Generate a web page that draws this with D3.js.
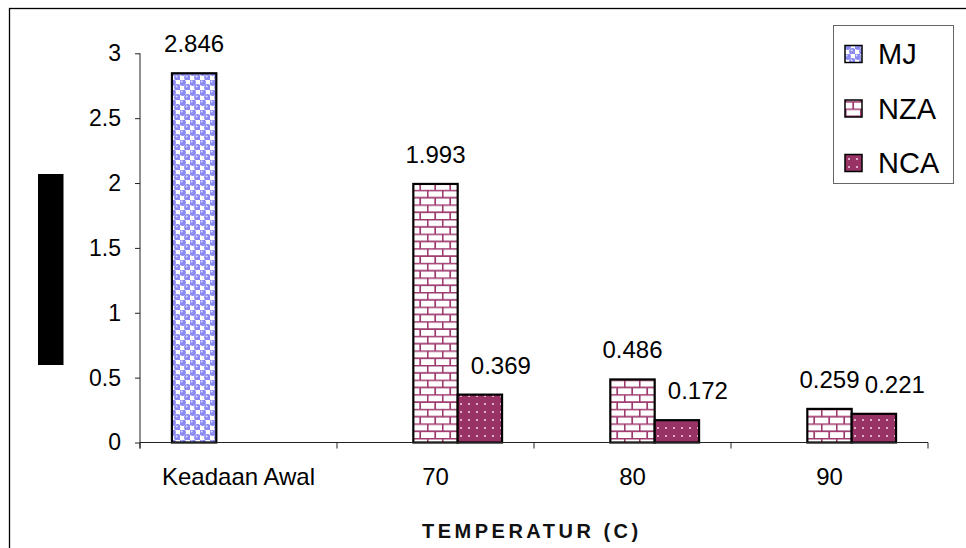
<!DOCTYPE html>
<html>
<head>
<meta charset="utf-8">
<script src="https://cdn.jsdelivr.net/npm/d3@7"></script>
<style>
  body { margin: 0; background: #fff; }
  svg { display: block; font-family: "Liberation Sans", Arial, sans-serif; }
</style>
</head>
<body>
<div id="chart"></div>
<script>
// chart data
var categories = ["Keadaan Awal", "70", "80", "90"];
var series = ["MJ", "NZA", "NCA"];
var mjValues = [2.846, null, null, null];
var nzaValues = [null, 1.993, 0.486, 0.259];
var ncaValues = [null, 0.369, 0.172, 0.221];
var yTicks = [0, 0.5, 1, 1.5, 2, 2.5, 3];
var xTitle = "TEMPERATUR (C)";

var values = { MJ: mjValues, NZA: nzaValues, NCA: ncaValues };

var w = 966;
var h = 548;
var plotLeft = 140, plotRight = 928, plotTop = 53.3, plotBottom = 442.5;

var svg = d3.select("#chart")
            .append("svg")
            .attr("width", w)
            .attr("height", h);

var defs = svg.append("defs");

// MJ - lavender bubbles on a checker
var pMJ = defs.append("pattern")
              .attr("id", "pat-MJ")
              .attr("patternUnits", "userSpaceOnUse")
              .attr("width", 10).attr("height", 10);
pMJ.append("rect").attr("width", 10).attr("height", 10).attr("fill", "#a0a0f8");
pMJ.append("rect").attr("x", 5).attr("y", 0).attr("width", 5).attr("height", 5).attr("fill", "#fff");
pMJ.append("rect").attr("x", 0).attr("y", 5).attr("width", 5).attr("height", 5).attr("fill", "#fff");
[[2.5, 2.5], [7.5, 7.5]].forEach(function(c) {
  pMJ.append("circle").attr("cx", c[0]).attr("cy", c[1]).attr("r", 3.4).attr("fill", "#8a8af2");
  pMJ.append("circle").attr("cx", c[0] - 0.8).attr("cy", c[1] - 1).attr("r", 1).attr("fill", "#dcdcff");
});

// NZA - plum bricks
var pNZA = defs.append("pattern")
               .attr("id", "pat-NZA")
               .attr("patternUnits", "userSpaceOnUse")
               .attr("width", 15).attr("height", 14.6);
pNZA.append("rect").attr("width", 15).attr("height", 14.6).attr("fill", "#fff");
pNZA.append("path")
    .attr("d", "M0,0.7H15M0,8H15M0.7,0.7V8M8.2,8V14.6")
    .attr("stroke", "#9e3a6e").attr("stroke-width", 1.7).attr("fill", "none");

// NCA - plum with white dots
var pNCA = defs.append("pattern")
               .attr("id", "pat-NCA")
               .attr("patternUnits", "userSpaceOnUse")
               .attr("width", 8).attr("height", 8);
pNCA.append("rect").attr("width", 8).attr("height", 8).attr("fill", "#993366");
pNCA.append("circle").attr("cx", 4).attr("cy", 4).attr("r", 1).attr("fill", "#f4d8e6");

// outer frame (cut by the page edges)
svg.append("rect")
   .attr("x", 9.5).attr("y", 8.5)
   .attr("width", 1000).attr("height", 1000)
   .attr("fill", "none").attr("stroke", "#000").attr("stroke-width", 1.3);

// hidden y axis title block
svg.append("rect")
   .attr("x", 38).attr("y", 174)
   .attr("width", 25.5).attr("height", 191)
   .attr("fill", "#000");

var x0 = d3.scaleBand()
           .domain(categories)
           .range([plotLeft, plotRight])
           .padding(0);

var x1 = d3.scaleBand()
           .domain(series)
           .range([0, x0.bandwidth()])
           .paddingInner(0)
           .paddingOuter(0.72);

var yScale = d3.scaleLinear()
               .domain([0, 3])
               .range([plotBottom, plotTop]);

// bars
var groups = svg.selectAll("g.cat")
                .data(categories)
                .enter()
                .append("g")
                .attr("class", "cat")
                .attr("transform", function(d) { return "translate(" + x0(d) + ",0)"; });

var labelShift = { MJ: 0, NZA: 0, NCA: 21 };

groups.each(function(cat, i) {
  var g = d3.select(this);
  var rows = series.map(function(s) { return { s: s, v: values[s][i] }; })
                   .filter(function(d) { return d.v != null; });

  g.selectAll("rect")
   .data(rows)
   .enter()
   .append("rect")
   .attr("x", function(d) { return x1(d.s); })
   .attr("y", function(d) { return yScale(d.v); })
   .attr("width", x1.bandwidth())
   .attr("height", function(d) { return yScale(0) - yScale(d.v); })
   .attr("fill", function(d) { return "url(#pat-" + d.s + ")"; })
   .attr("stroke", "#000")
   .attr("stroke-width", 2.2);

  g.selectAll("text")
   .data(rows)
   .enter()
   .append("text")
   .attr("x", function(d) { return x1(d.s) + x1.bandwidth() / 2 + labelShift[d.s]; })
   .attr("y", function(d) { return yScale(d.v) - 21; })
   .attr("text-anchor", "middle")
   .attr("font-size", 24)
   .attr("fill", "#000")
   .text(function(d) { return d.v.toFixed(3); });
});

// y axis
var yAxis = d3.axisLeft(yScale)
              .tickValues(yTicks)
              .tickSize(5)
              .tickPadding(14)
              .tickFormat(d3.format(""));

var gy = svg.append("g")
            .attr("class", "axis")
            .attr("transform", "translate(" + plotLeft + ",0)")
            .call(yAxis);
gy.select(".domain").attr("d", "M0," + plotTop + "V" + (plotBottom + 6)).attr("stroke", "#222");
gy.selectAll(".tick line").attr("stroke", "#222");
gy.selectAll(".tick text")
  .attr("font-size", 23)
  .attr("font-family", "Liberation Sans, Arial, sans-serif")
  .attr("fill", "#000");

// x axis: line with ticks between categories
svg.append("line")
   .attr("x1", plotLeft).attr("x2", plotRight)
   .attr("y1", plotBottom).attr("y2", plotBottom)
   .attr("stroke", "#222");

var bounds = categories.map(function(c) { return x0(c); }).concat([plotRight]);
svg.selectAll("line.xtick")
   .data(bounds)
   .enter()
   .append("line")
   .attr("class", "xtick")
   .attr("x1", function(d) { return d; }).attr("x2", function(d) { return d; })
   .attr("y1", plotBottom).attr("y2", plotBottom + 6)
   .attr("stroke", "#222");

svg.selectAll("text.xlabel")
   .data(categories)
   .enter()
   .append("text")
   .attr("class", "xlabel")
   .attr("x", function(d) { return x0(d) + x0.bandwidth() / 2; })
   .attr("y", 485)
   .attr("text-anchor", "middle")
   .attr("font-size", 24)
   .attr("fill", "#000")
   .text(function(d) { return d; });

svg.append("text")
   .attr("x", 422)
   .attr("y", 538)
   .attr("font-size", 20)
   .attr("font-weight", "bold")
   .attr("letter-spacing", 3.5)
   .attr("fill", "#111")
   .text(xTitle);

// legend
var legend = svg.append("g").attr("class", "legend");
legend.append("rect")
      .attr("x", 833.5).attr("y", 25.5)
      .attr("width", 120).attr("height", 158)
      .attr("fill", "#fff").attr("stroke", "#666").attr("stroke-width", 1);

var legendY = d3.scalePoint().domain(series).range([54, 163]);

var items = legend.selectAll("g.item")
                  .data(series)
                  .enter()
                  .append("g")
                  .attr("class", "item")
                  .attr("transform", function(d) { return "translate(845," + legendY(d) + ")"; });

items.append("rect")
     .attr("x", 0).attr("y", -8.5)
     .attr("width", 17).attr("height", 17)
     .attr("fill", function(d) { return "url(#pat-" + d + ")"; })
     .attr("stroke", "#000").attr("stroke-width", 1.5);

items.append("text")
     .attr("x", 33)
     .attr("y", 0)
     .attr("dy", "0.36em")
     .attr("font-size", 29)
     .attr("fill", "#000")
     .text(function(d) { return d; });
</script>
</body>
</html>
